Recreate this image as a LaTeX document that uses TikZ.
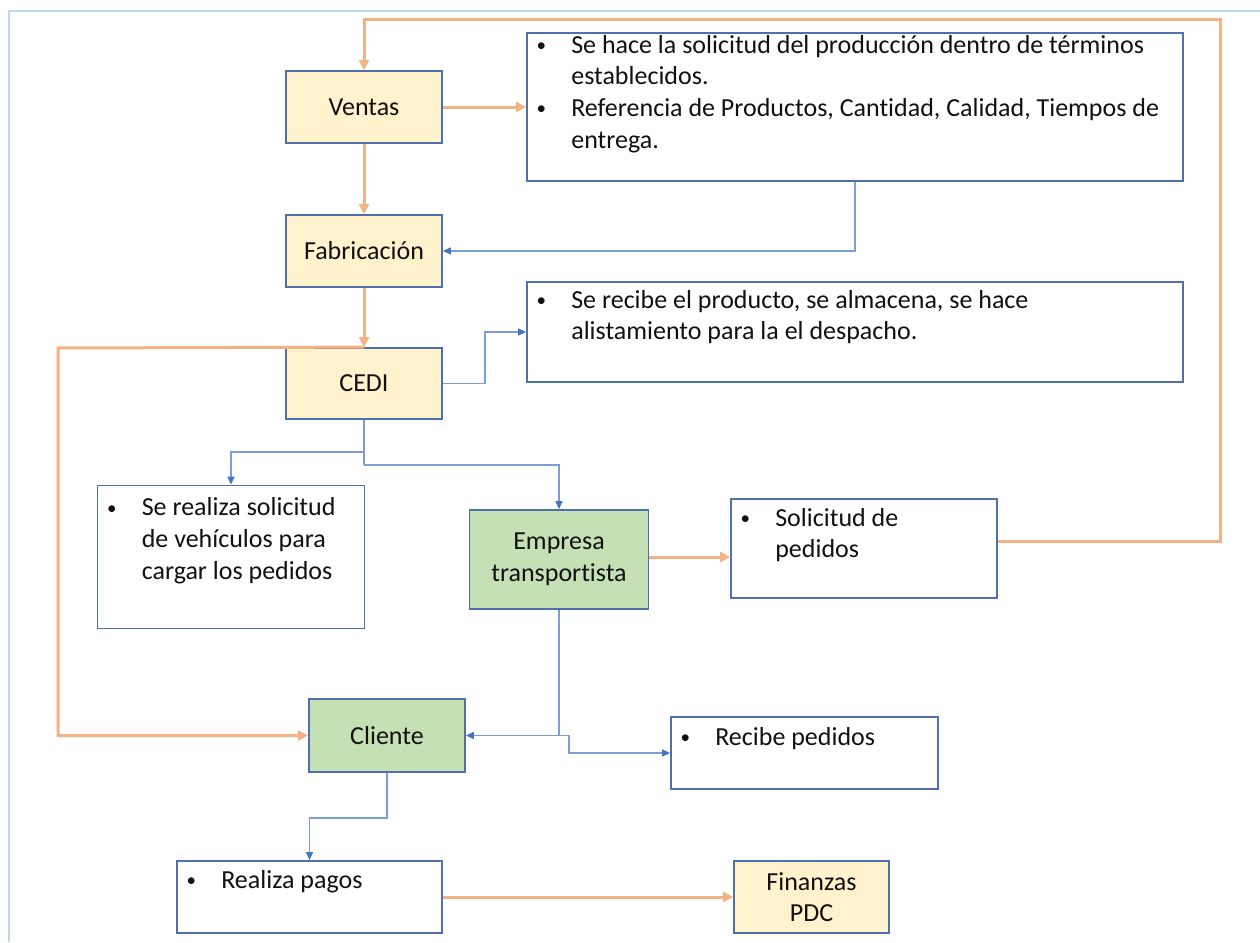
\documentclass[tikz,border=0pt]{standalone}
\usepackage{fontspec}
\setmainfont{Carlito}[RawFeature=-liga]
\usetikzlibrary{arrows.meta,calc}

\definecolor{edge}{HTML}{4F6FAD}
\definecolor{sand}{HTML}{FFF2CC}
\definecolor{sage}{HTML}{C5E0B4}
\definecolor{peach}{HTML}{F4B183}
\definecolor{link}{HTML}{7D9DDA}
\definecolor{linktip}{HTML}{4472C4}
\definecolor{framecol}{HTML}{BDD7EE}
\definecolor{ink}{HTML}{111111}

% bullet list set as a two-column table: bullet column, then text column
\newcommand{\dotmark}{\makebox[30pt]{\raisebox{1.6pt}{\fontsize{19}{19}\selectfont •}}}
\newcommand{\bullist}[1]{\begin{tabular}[t]{@{}l@{\hspace{15pt}}l@{}}#1\end{tabular}}

\tikzset{
  card/.style={draw=edge, line width=1.8pt, inner sep=0pt, align=center},
  stepcard/.style={card, fill=sand},
  partycard/.style={card, fill=sage},
  notecard/.style={card, fill=white},
  notetext/.style={anchor=base west, inner sep=0pt},
  flow/.style={draw=peach, line width=3pt, -{Triangle[length=10pt,width=10pt]}},
  plainflow/.style={draw=peach, line width=3pt},
  info/.style={draw=link, line width=1.3pt, -{Triangle[length=8pt,width=7pt,color=linktip]}},
  plaininfo/.style={draw=link, line width=1.3pt},
}

\begin{document}
\begin{tikzpicture}[x=1pt, y=-1pt, font=\fontsize{26}{31.7}\selectfont, text=ink]
\useasboundingbox (0,0) rectangle (1260,942);

% page frame (top and left edges)
\draw[framecol, line width=2pt] (9,942) -- (9,11) -- (1260,11);

% process steps
\node[stepcard, minimum width=156pt, minimum height=72pt] (ventas) at (364,107) {Ventas};
\node[stepcard, minimum width=156pt, minimum height=72pt] (fab) at (364,251) {Fabricación};
\node[stepcard, minimum width=156pt, minimum height=71pt] (cedi) at (364,383.5) {CEDI};
\node[partycard, minimum width=179pt, minimum height=99pt] (emp) at (559,559.5) {Empresa\\transportista};
\node[partycard, minimum width=156pt, minimum height=73pt] (cliente) at (387,735.5) {Cliente};
\node[stepcard, minimum width=155pt, minimum height=72pt] (fin) at (811.5,897) {Finanzas\\PDC};

% note boxes
\node[notecard, minimum width=656pt, minimum height=148pt] (n1) at (855,107) {};
\node[notecard, minimum width=656pt, minimum height=100pt] (n2) at (855,332) {};
\node[notecard, minimum width=267pt, minimum height=143pt] (n3) at (231,557) {};
\node[notecard, minimum width=266pt, minimum height=99pt] (n4) at (864,548.5) {};
\node[notecard, minimum width=267pt, minimum height=72pt] (n5) at (804.5,753) {};
\node[notecard, minimum width=265pt, minimum height=72pt] (n6) at (309.5,897) {};

% note texts
\node[notetext] (t1) at ($(n1.north west)+(0,21)$) {\bullist{
  \dotmark & Se hace la solicitud del producción dentro de términos\\
           & establecidos.\\
  \dotmark & Referencia de Productos, Cantidad, Calidad, Tiempos de\\
           & entrega.}};
\node[notetext] (t2) at ($(n2.north west)+(0,27)$) {\bullist{
  \dotmark & Se recibe el producto, se almacena, se hace\\
           & alistamiento para la el despacho.}};
\node[notetext] (t3) at ($(n3.north west)+(0,31)$) {\bullist{
  \dotmark & Se realiza solicitud\\
           & de vehículos para\\
           & cargar los pedidos}};
\node[notetext] (t4) at ($(n4.north west)+(0,28)$) {\bullist{
  \dotmark & Solicitud de\\
           & pedidos}};
\node[notetext] (t5) at ($(n5.north west)+(0,29)$) {\bullist{
  \dotmark & Recibe pedidos}};
\node[notetext] (t6) at ($(n6.north west)+(0,28)$) {\bullist{
  \dotmark & Realiza pagos}};

% orange flows
\draw[flow] ([yshift=7.5pt]n4.east) -| (1220,20) -| (ventas.north);
\draw[flow] (ventas.east) -- (n1.west);
\draw[flow] (ventas.south) -- (fab.north);
\draw[flow] (fab.south) -- (cedi.north);
\draw[flow] (cedi.north) -- (58,348) |- (cliente.west);
\draw[flow] ([yshift=2.5pt]emp.east) -- ([yshift=2.5pt]emp.east -| n4.west);
\draw[flow] (n6.east) -- (fin.west);

% blue information links
\draw[info] (n1.south) |- (fab.east);
\draw[info] (cedi.east) -- ++(42,0) |- (n2.west);
\draw[info] (cedi.south) -- (364,452) -| (n3.north);
\draw[plaininfo] (364,452) -- (364,465);
\draw[info] (364,465) -| (emp.north);
\coordinate (split) at (emp.south |- cliente.east);
\draw[info] (emp.south) -- (split) -- (cliente.east);
\draw[info] (split) -- ++(10,0) |- (n5.west);
\draw[info] (cliente.south) -- ++(0,45) -| (n6.north);
\end{tikzpicture}
\end{document}
